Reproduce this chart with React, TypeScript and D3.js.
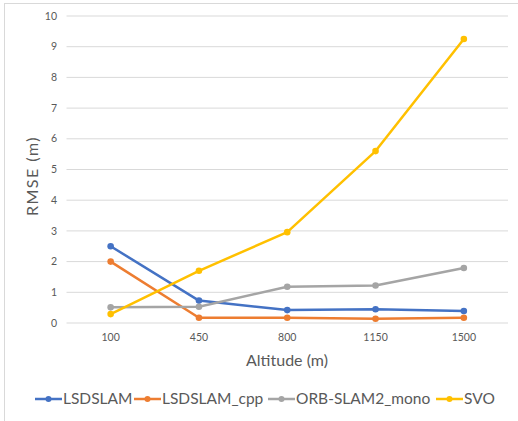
import React from "react";
import * as d3 from "d3";

const altitudes = ["100", "450", "800", "1150", "1500"];
const lsdslam = [2.5, 0.73, 0.42, 0.45, 0.39];
const lsdslamCpp = [2.0, 0.17, 0.17, 0.14, 0.17];
const orbSlam2Mono = [0.51, 0.53, 1.18, 1.22, 1.79];
const svo = [0.29, 1.7, 2.96, 5.6, 9.25];
const yTicks = [0, 1, 2, 3, 4, 5, 6, 7, 8, 9, 10];

const seriesList = [
  { name: "LSDSLAM", values: lsdslam, color: "#4472C4" },
  { name: "LSDSLAM_cpp", values: lsdslamCpp, color: "#ED7D31" },
  { name: "ORB-SLAM2_mono", values: orbSlam2Mono, color: "#A5A5A5" },
  { name: "SVO", values: svo, color: "#FFC000" },
];

const W = 518;
const H = 421;
const font = "Lato, 'Open Sans', sans-serif";

export default function App() {
  const x = d3.scaleBand<string>().domain(altitudes).range([66.5, 508]);
  const y = d3.scaleLinear().domain([0, 10]).range([323, 16]);
  const cx = (i: number) => (x(altitudes[i]) ?? 0) + x.bandwidth() / 2;
  const line = d3
    .line<number>()
    .x((_, i) => cx(i))
    .y((d) => y(d));

  const legendX = [35, 134, 268, 436];

  return (
    <svg
      width={W}
      height={H}
      style={{ position: "absolute", left: 0, top: 0, display: "block" }}
    >
      <rect x={0} y={0} width={W} height={H} fill="#fff" />
      <rect x={4.5} y={3.5} width={W + 10} height={H + 10} fill="none" stroke="#d9d9d9" />
      {yTicks.map((t) => (
        <g key={t}>
          <line x1={66.5} x2={508} y1={y(t)} y2={y(t)} stroke="#d9d9d9" strokeWidth={1} />
          <text
            x={57}
            y={y(t)}
            dy="0.35em"
            textAnchor="end"
            fontFamily={font}
            fontSize={10.5}
            fill="#595959"
          >
            {t}
          </text>
        </g>
      ))}
      {altitudes.map((a, i) => (
        <text
          key={a}
          x={cx(i)}
          y={337.5}
          dy="0.35em"
          textAnchor="middle"
          fontFamily={font}
          fontSize={10.5}
          fill="#595959"
        >
          {a}
        </text>
      ))}
      <text
        x={287}
        y={360}
        dy="0.35em"
        textAnchor="middle"
        fontFamily={font}
        fontSize={16}
        fill="#595959"
      >
        Altitude (m)
      </text>
      <text
        transform={`translate(32,176) rotate(-90)`}
        dy="0.35em"
        textAnchor="middle"
        fontFamily={font}
        fontSize={16}
        letterSpacing={1.5}
        fill="#595959"
      >
        RMSE (m)
      </text>
      {seriesList.map((s) => (
        <g key={s.name}>
          <path
            d={line(s.values) ?? ""}
            fill="none"
            stroke={s.color}
            strokeWidth={2.5}
            strokeLinejoin="round"
            strokeLinecap="round"
          />
          {s.values.map((v, i) => (
            <circle key={i} cx={cx(i)} cy={y(v)} r={3.3} fill={s.color} />
          ))}
        </g>
      ))}
      {seriesList.map((s, i) => (
        <g key={s.name} transform={`translate(${legendX[i]},399)`}>
          <line x1={0} x2={27} y1={0} y2={0} stroke={s.color} strokeWidth={2.5} />
          <circle cx={13.5} cy={0} r={3} fill={s.color} />
          <text
            x={28}
            y={0}
            dy="0.35em"
            fontFamily={font}
            fontSize={15.5}
            fill="#595959"
          >
            {s.name}
          </text>
        </g>
      ))}
    </svg>
  );
}
